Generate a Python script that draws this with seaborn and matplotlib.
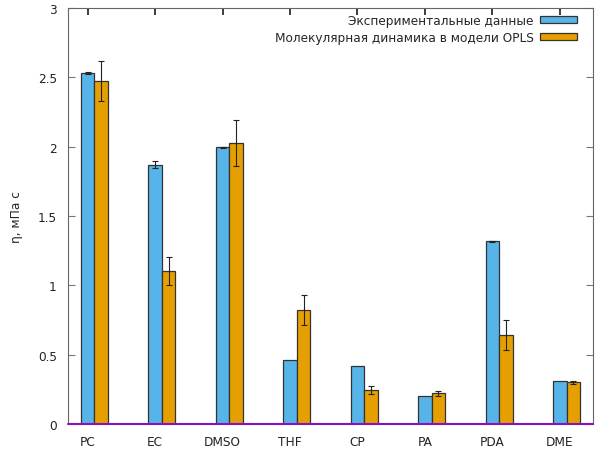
import matplotlib
matplotlib.use("Agg")
import matplotlib.pyplot as plt
import matplotlib.patches as mpatches
import seaborn as sns
import pandas as pd

sns.set_theme(style="white")
plt.rcParams["font.family"] = ["DejaVu Sans"]

solvents = ["PC", "EC", "DMSO", "THF", "CP", "PA", "PDA", "DME"]
exp_eta = [2.531, 1.870, 1.996, 0.462, 0.418, 0.200, 1.317, 0.308]
exp_err = [0.008, 0.025, 0.003, 0.0, 0.0, 0.0, 0.005, 0.0]
md_eta = [2.473, 1.103, 2.026, 0.822, 0.245, 0.222, 0.642, 0.300]
md_err = [0.145, 0.100, 0.165, 0.110, 0.030, 0.018, 0.105, 0.010]
series = ["Экспериментальные данные", "Молекулярная динамика в модели OPLS"]
colors = ["#56b4e9", "#e69f00"]
y_ticks = [0, 0.5, 1, 1.5, 2, 2.5, 3]
y_labels = ["0", "0.5", "1", "1.5", "2", "2.5", "3"]

FS = 8.7

df = pd.DataFrame({
    "solvent": solvents * 2,
    "eta": exp_eta + md_eta,
    "err": exp_err + md_err,
    "source": [series[0]] * len(solvents) + [series[1]] * len(solvents),
})

fig = plt.figure(figsize=(5.98, 4.52), dpi=100)
ax = fig.add_axes([68 / 598, 27 / 452, 525 / 598, 416 / 452])

sns.barplot(data=df, x="solvent", y="eta", hue="source", order=solvents,
            hue_order=series, palette=colors, width=0.4, dodge=True,
            errorbar=None, edgecolor="#333333", linewidth=0.9,
            saturation=1, legend=False, ax=ax)

# error bars at the centre of each bar
bars = [p for p in ax.patches if isinstance(p, mpatches.Rectangle) and p.get_width() > 0]
bars = sorted(bars, key=lambda p: p.get_x())
n = len(solvents)
blue_centers = []
for i in range(n):
    for j, (vals, errs) in enumerate([(exp_eta, exp_err), (md_eta, md_err)]):
        p = bars[2 * i + j]
        cx = p.get_x() + p.get_width() / 2
        if j == 0:
            blue_centers.append(cx)
        if errs[i] > 0:
            ax.errorbar(cx, vals[i], yerr=errs[i], fmt="none", ecolor="#222222",
                        elinewidth=0.8, capsize=2.4, capthick=0.8, zorder=5)

ax.axhline(0, color="#8a10c0", lw=1.5, zorder=6, clip_on=False)

ax.set_xlim(-0.39, 7.39)
ax.set_ylim(0, 3)
ax.set_xticks(blue_centers)
ax.set_xticklabels(solvents)
ax.set_yticks(y_ticks)
ax.set_yticklabels(y_labels)
ax.set_xlabel("")
ax.set_ylabel("η, мПа с", fontsize=FS)
ax.yaxis.set_label_coords(-0.086, 0.5)

for s in ax.spines.values():
    s.set_color("#666666")
    s.set_linewidth(0.8)
ax.spines["bottom"].set_visible(False)

ax.tick_params(axis="y", which="both", direction="in", length=5, width=0.8,
               color="#777777", left=True, right=True, labelsize=FS, pad=8,
               labelcolor="#222222")
ax.tick_params(axis="x", which="both", direction="in", length=0,
               labelsize=FS, pad=8, labelcolor="#222222")
ax.tick_params(axis="x", which="both", top=True, bottom=False)
for t in ax.xaxis.get_major_ticks():
    t.tick2line.set_markersize(5)
    t.tick2line.set_color("#777777")

handles = [mpatches.Patch(facecolor=c, edgecolor="#333333", linewidth=0.9) for c in colors]
ax.legend(handles, series, loc="upper right", bbox_to_anchor=(0.978, 0.998),
          frameon=False, markerfirst=False, fontsize=FS, handlelength=3.0,
          handleheight=0.6, handletextpad=0.55, labelspacing=0.35,
          borderaxespad=0.0)

fig.savefig("out.png", dpi=100)
